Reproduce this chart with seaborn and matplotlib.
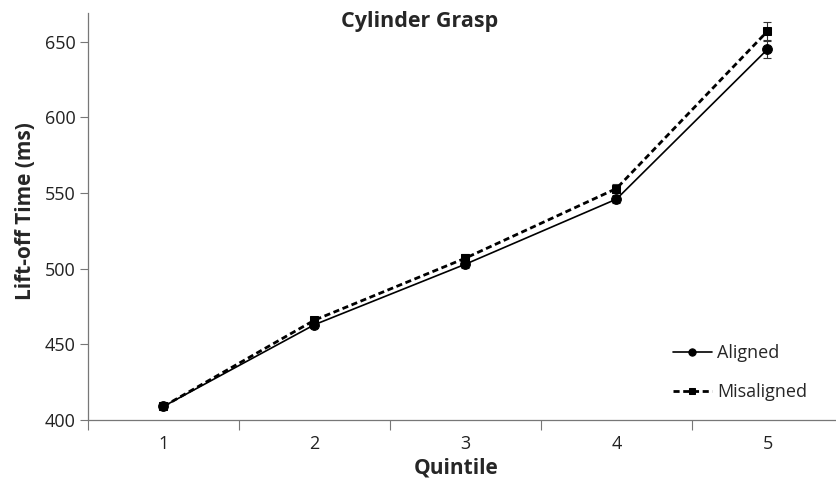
import numpy as np
import pandas as pd
import matplotlib
matplotlib.use('Agg')
import matplotlib.pyplot as plt
import seaborn as sns

# Data
quintiles = [1, 2, 3, 4, 5]
aligned = [409, 463, 503, 546, 645]
aligned_err = [1.5, 2.0, 2.5, 2.5, 5.5]
misaligned = [409, 466, 507, 553, 657]
misaligned_err = [1.5, 2.0, 2.5, 3.0, 6.0]

sns.set_theme(style='white')
plt.rcParams['font.family'] = ['Open Sans', 'DejaVu Sans']

df = pd.DataFrame({
    'Quintile': quintiles * 2,
    'Time': aligned + misaligned,
    'Condition': ['Aligned'] * 5 + ['Misaligned'] * 5,
})

W, H = 837, 480
fig = plt.figure(figsize=(W / 100, H / 100), dpi=100)
ax = fig.add_axes([88 / W, 60 / H, (W - 88) / W, (420 - 13) / H])

# error bars first so markers sit on top
ax.errorbar(quintiles, aligned, yerr=aligned_err, fmt='none', ecolor='#333333',
            elinewidth=0.8, capsize=3, capthick=0.8, zorder=2)
ax.errorbar(quintiles, misaligned, yerr=misaligned_err, fmt='none', ecolor='#333333',
            elinewidth=0.8, capsize=3, capthick=0.8, zorder=2)

sns.lineplot(data=df[df.Condition == 'Aligned'], x='Quintile', y='Time', ax=ax,
             color='black', linewidth=1.2, marker='o', markersize=7,
             markeredgecolor='black', label='Aligned', zorder=3)
sns.lineplot(data=df[df.Condition == 'Misaligned'], x='Quintile', y='Time', ax=ax,
             color='black', linewidth=2.0, linestyle=(0, (2.2, 1.3)), marker='s', markersize=6,
             markeredgecolor='black', label='Misaligned', zorder=3)

ax.set_xlim(0.5, 0.5 + (W - 88) / 151)
ax.set_ylim(400, 669)
ax.set_yticks([400, 450, 500, 550, 600, 650])
ax.set_xticks(quintiles)
ax.set_xticks([0.5, 1.5, 2.5, 3.5, 4.5], minor=True)
ax.tick_params(axis='x', which='major', bottom=True, length=0, labelsize=13, pad=11,
               labelcolor='#222222')
ax.tick_params(axis='x', which='minor', bottom=True, length=7, width=0.8,
               color='#777777', direction='out')
ax.tick_params(axis='y', left=True, length=6, width=0.8, color='#777777', direction='out',
               labelsize=13, pad=3, labelcolor='#222222')

for side in ['top', 'right']:
    ax.spines[side].set_visible(False)
for side in ['left', 'bottom']:
    ax.spines[side].set_color('#777777')
    ax.spines[side].set_linewidth(0.9)

ax.set_xlabel('Quintile', fontsize=15, fontweight='bold')
ax.xaxis.label.set_va('center')
ax.xaxis.set_label_coords((456 - 88) / (W - 88), -(468 - 420) / 407)
ax.set_ylabel('Lift-off Time (ms)', fontsize=15, fontweight='bold')
ax.yaxis.set_label_coords(-(88 - 26) / (W - 88), (420 - 211) / 407)
ax.yaxis.label.set_va('center')

fig.text(420 / W, 1 - 21 / H, 'Cylinder Grasp', ha='center', va='center',
         fontsize=15.5, fontweight='bold')

leg = ax.legend(loc='lower left', bbox_to_anchor=(673 / W, 1 - 401 / H),
                bbox_transform=fig.transFigure, frameon=False,
                fontsize=13, handlelength=2.15, handletextpad=0.3, labelspacing=1.15,
                borderaxespad=0, borderpad=0, markerscale=0.75)

fig.savefig('out.png', dpi=100)
